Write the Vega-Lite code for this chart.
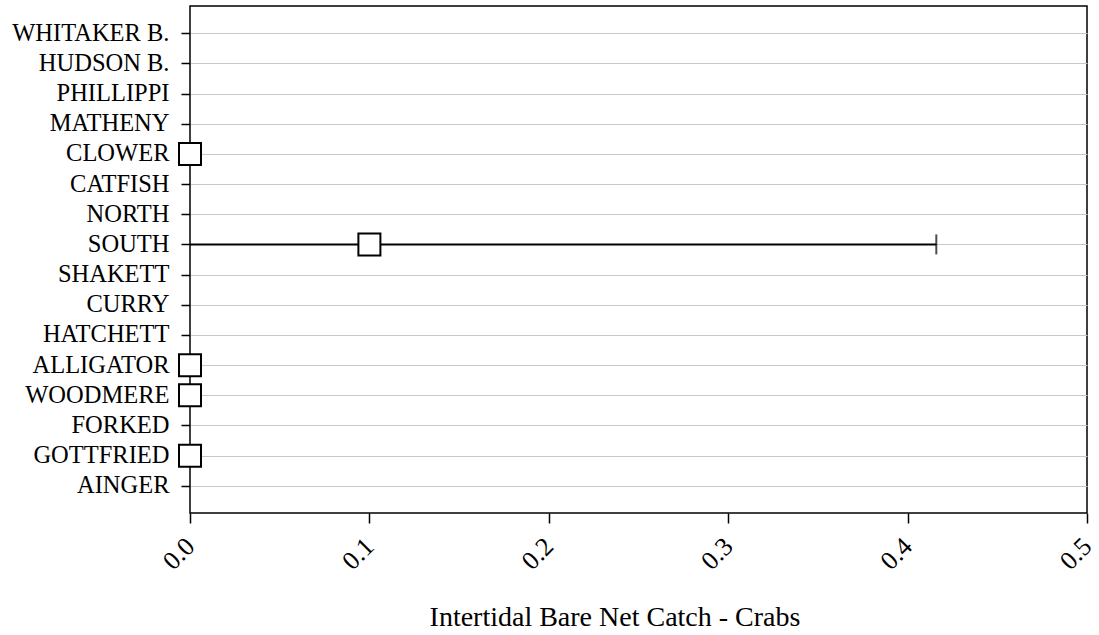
{
  "$schema": "https://vega.github.io/schema/vega-lite/v6.json",
  "width": 897,
  "height": 507,
  "autosize": {"type": "none"},
  "padding": {"left": 190, "top": 6, "right": 12, "bottom": 122},
  "background": "white",
  "config": {
    "font": "Liberation Serif",
    "view": {"stroke": "black", "strokeWidth": 1.5},
    "axis": {
      "labelFont": "Liberation Serif",
      "titleFont": "Liberation Serif",
      "labelColor": "black",
      "titleColor": "black",
      "tickColor": "black",
      "tickWidth": 1.5,
      "domain": false,
      "titleFontWeight": "normal"
    }
  },
  "data": {
    "values": [
      {"site": "WHITAKER B.", "mean": null, "lo": null, "hi": null},
      {"site": "HUDSON B.", "mean": null, "lo": null, "hi": null},
      {"site": "PHILLIPPI", "mean": null, "lo": null, "hi": null},
      {"site": "MATHENY", "mean": null, "lo": null, "hi": null},
      {"site": "CLOWER", "mean": 0, "lo": 0, "hi": 0},
      {"site": "CATFISH", "mean": null, "lo": null, "hi": null},
      {"site": "NORTH", "mean": null, "lo": null, "hi": null},
      {"site": "SOUTH", "mean": 0.1, "lo": -0.216, "hi": 0.416},
      {"site": "SHAKETT", "mean": null, "lo": null, "hi": null},
      {"site": "CURRY", "mean": null, "lo": null, "hi": null},
      {"site": "HATCHETT", "mean": null, "lo": null, "hi": null},
      {"site": "ALLIGATOR", "mean": 0, "lo": 0, "hi": 0},
      {"site": "WOODMERE", "mean": 0, "lo": 0, "hi": 0},
      {"site": "FORKED", "mean": null, "lo": null, "hi": null},
      {"site": "GOTTFRIED", "mean": 0, "lo": 0, "hi": 0},
      {"site": "AINGER", "mean": null, "lo": null, "hi": null}
    ]
  },
  "encoding": {
    "y": {
      "field": "site",
      "type": "nominal",
      "sort": null,
      "scale": {
        "type": "point",
        "padding": 0.9,
        "domain": ["WHITAKER B.", "HUDSON B.", "PHILLIPPI", "MATHENY", "CLOWER", "CATFISH", "NORTH", "SOUTH", "SHAKETT", "CURRY", "HATCHETT", "ALLIGATOR", "WOODMERE", "FORKED", "GOTTFRIED", "AINGER"]
      },
      "axis": {
        "title": null,
        "grid": true,
        "gridColor": "#c8c8c8",
        "gridWidth": 1.2,
        "tickSize": 9,
        "labelFontSize": 24.5,
        "labelPadding": 12
      }
    }
  },
  "layer": [
    {
      "transform": [{"filter": "datum.mean != null"}],
      "mark": {"type": "rule", "color": "black", "strokeWidth": 2, "clip": true},
      "encoding": {
        "x": {
          "field": "lo",
          "type": "quantitative",
          "scale": {"domain": [0, 0.5], "nice": false, "zero": false},
          "axis": {
            "title": "Intertidal Bare Net Catch - Crabs",
            "titleFontSize": 28,
            "titleX": 424.5,
            "titleY": 112,
            "titleAlign": "center",
            "titleBaseline": "alphabetic",
            "values": [0, 0.1, 0.2, 0.3, 0.4, 0.5],
            "format": ".1f",
            "grid": false,
            "tickSize": 10,
            "labelFontSize": 26,
            "labelAngle": -45,
            "labelAlign": "right",
            "labelBaseline": "middle",
            "labelPadding": 19
          }
        },
        "x2": {"field": "hi"}
      }
    },
    {
      "transform": [{"filter": "datum.mean != null && datum.hi > 0"}],
      "mark": {"type": "tick", "color": "black", "size": 20, "thickness": 2},
      "encoding": {
        "x": {"field": "hi", "type": "quantitative"}
      }
    },
    {
      "transform": [{"filter": "datum.mean != null"}],
      "mark": {"type": "point", "shape": "square", "filled": true, "fill": "white", "stroke": "black", "strokeWidth": 2, "size": 484, "opacity": 1},
      "encoding": {
        "x": {"field": "mean", "type": "quantitative"}
      }
    }
  ]
}
